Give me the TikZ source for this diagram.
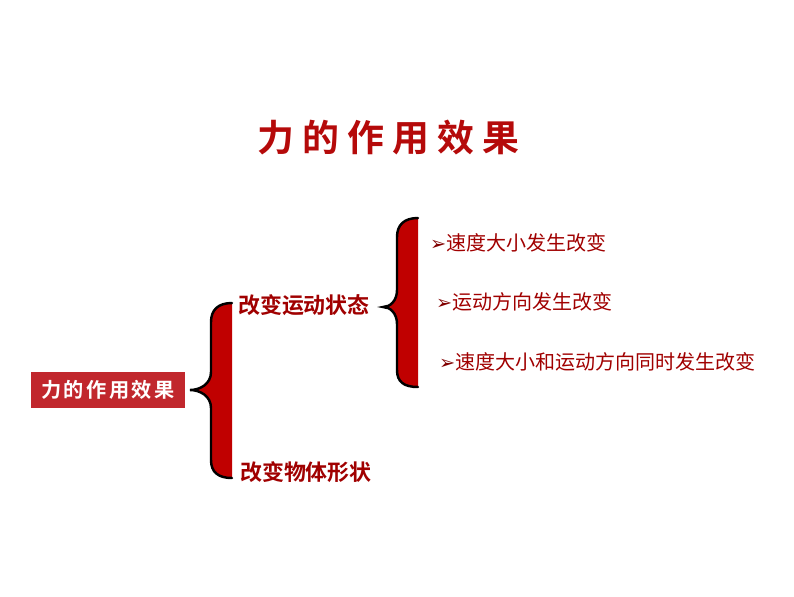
\documentclass[tikz,border=0pt]{standalone}
\usepackage{fontspec}
\newfontfamily\cjk{Noto Sans CJK SC}[BoldFont={Noto Sans CJK SC Bold}]
\newfontfamily\dingfont{DejaVu Sans}
\definecolor{titlered}{HTML}{B50A0A}
\definecolor{boxred}{HTML}{C1272D}
\definecolor{textred}{HTML}{A00000}
\definecolor{bracered}{HTML}{C00000}
\newcommand{\bul}{{\dingfont\fontsize{11}{12}\selectfont\color{textred!80!black}➢}}
\begin{document}
\begin{tikzpicture}[x=0.02cm,y=-0.02cm,
  effect/.style={anchor=west, inner sep=1pt, text=textred, font=\cjk\bfseries\fontsize{12.5}{14}\selectfont},
  item/.style={anchor=west, inner sep=1pt, text=textred, font=\cjk\fontsize{11.4}{13}\selectfont},
  bracebody/.style={fill=bracered, draw=none},
  braceedge/.style={draw=black, line width=1.4pt, line cap=round}]
  \useasboundingbox (0,0) rectangle (794,596);
  % title
  \node[text=titlered, font=\cjk\bfseries\fontsize{21}{24}\selectfont\addfontfeature{LetterSpace=22}] (title) at (388,138) {力的作用效果};
  % root box
  \node[fill=boxred, minimum width=3.1cm, minimum height=0.72cm, inner sep=0pt, text=white, font=\cjk\bfseries\fontsize{11.5}{13}\selectfont\addfontfeature{LetterSpace=12}] (root) at (108,390) {力的作用效果};
  % first brace
  \path[bracebody] (232,303) .. controls (218,303) and (211,310) .. (211,322) -- (211,372) .. controls (211,384) and (200,390) .. (190,390) .. controls (200,390) and (211,396) .. (211,408) -- (211,460) .. controls (211,472) and (218,478) .. (232,478) -- cycle;
  \draw[braceedge] (232,303) .. controls (218,303) and (211,310) .. (211,322) -- (211,372) .. controls (211,384) and (200,390) .. (190,390) .. controls (200,390) and (211,396) .. (211,408) -- (211,460) .. controls (211,472) and (218,478) .. (232,478);
  \node[effect] (state) at (236,305) {改变运动状态};
  \node[effect] (shape) at (238,472) {改变物体形状};
  % second brace
  \path[bracebody] (418,218) .. controls (404,218) and (397,225) .. (397,237) -- (397,290) .. controls (397,301) and (390,307) .. (383,307) .. controls (390,307) and (397,313) .. (397,324) -- (397,370) .. controls (397,382) and (404,387) .. (418,387) -- cycle;
  \draw[braceedge] (418,218) .. controls (404,218) and (397,225) .. (397,237) -- (397,290) .. controls (397,301) and (390,307) .. (383,307) .. controls (390,307) and (397,313) .. (397,324) -- (397,370) .. controls (397,382) and (404,387) .. (418,387);
  \node[item] (speed) at (428,243) {\bul{}速度大小发生改变};
  \node[item] (dir) at (434,302) {\bul{}运动方向发生改变};
  \node[item] (both) at (437,362) {\bul{}速度大小和运动方向同时发生改变};
\end{tikzpicture}
\end{document}
